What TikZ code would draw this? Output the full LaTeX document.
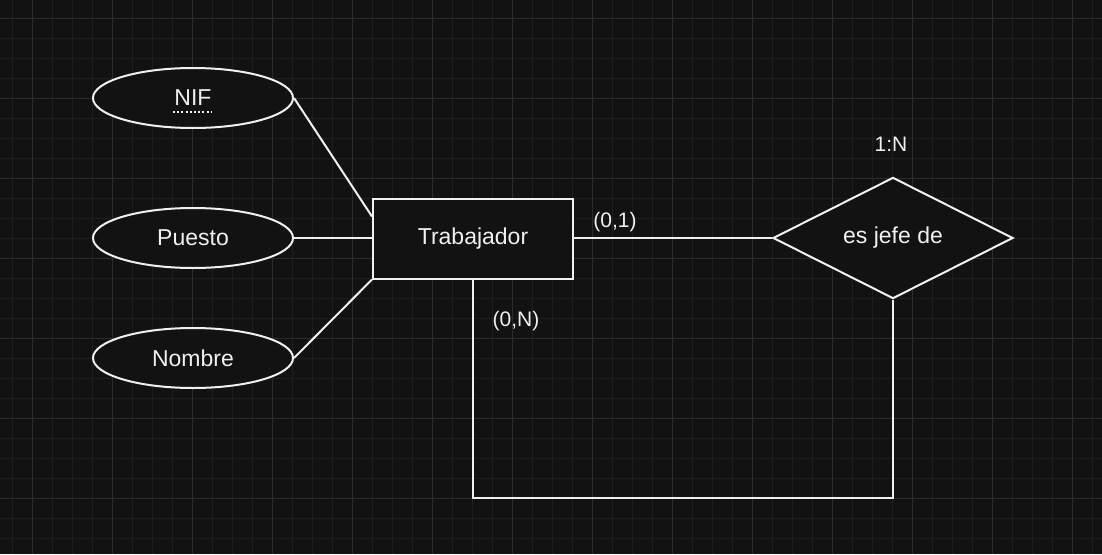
\documentclass[tikz,border=0pt]{standalone}
\usepackage{fontspec}
\setmainfont{Liberation Sans}
\usetikzlibrary{shapes.geometric}
\definecolor{bg}{RGB}{18,18,18}
\definecolor{gridminor}{RGB}{30,30,30}
\definecolor{gridmajor}{RGB}{44,44,44}
\definecolor{ink}{RGB}{240,240,240}
\tikzset{
  attr/.style={ellipse, draw=ink, fill=bg, line width=2pt, minimum width=200pt, minimum height=60pt, inner sep=0pt, text=ink, font=\fontsize{23}{27}\selectfont},
  entity/.style={rectangle, draw=ink, fill=bg, line width=2pt, minimum width=200pt, minimum height=80pt, inner sep=0pt, text=ink, font=\fontsize{23}{27}\selectfont},
  rel/.style={diamond, draw=ink, fill=bg, line width=2pt, minimum width=240pt, minimum height=120pt, inner sep=0pt, text=ink, font=\fontsize{23}{27}\selectfont},
  conn/.style={draw=ink, line width=2pt},
  lbl/.style={text=ink, inner sep=0pt, font=\fontsize{21}{25}\selectfont},
}
\begin{document}
\begin{tikzpicture}[x=1pt,y=-1pt]
\useasboundingbox (0,0) rectangle (1102,554);
\fill[bg] (0,0) rectangle (1102,554);
% grid
\foreach \i in {0,...,55} {
  \draw[gridminor, line width=1pt] ({12.7+20*\i},0) -- ({12.7+20*\i},554);
}
\foreach \j in {0,...,27} {
  \draw[gridminor, line width=1pt] (0,{18.3+20*\j}) -- (1102,{18.3+20*\j});
}
\foreach \i in {0,...,13} {
  \draw[gridmajor, line width=1pt] ({32.7+80*\i},0) -- ({32.7+80*\i},554);
}
\foreach \j in {0,...,6} {
  \draw[gridmajor, line width=1pt] (0,{18.3+80*\j}) -- (1102,{18.3+80*\j});
}
% nodes
\node[attr] (nif) at (193,98) {NIF};
\node[attr] (puesto) at (193,238) {Puesto};
\node[attr] (nombre) at (193,358) {Nombre};
\node[entity] (trab) at (473,238.5) {Trabajador};
\node[rel] (jefe) at (893,238) {es jefe de};
\coordinate (c1) at (893,498);
\coordinate (c2) at (473,498);
% underline of key attribute
\draw[ink, line width=1.6pt, dash pattern=on 2pt off 2.2pt] ([xshift=-20pt,yshift=-14pt]nif.center) -- ([xshift=19pt,yshift=-14pt]nif.center);
% connectors
\draw[conn] (nif.east) -- ([yshift=-19pt]trab.north west);
\draw[conn] (puesto.east) -- (trab.west |- puesto.east);
\draw[conn] (nombre.east) -- (trab.south west);
\draw[conn] (trab.east |- jefe.west) -- (jefe.west);
\draw[conn] (jefe.south) -- (c1) -- (c2) -- (trab.south);
% labels
\node[lbl] (l01) at (615,222) {(0,1)};
\node[lbl] (l0n) at (516,321) {(0,N)};
\node[lbl] (l1n) at (891,144.5) {1:N};
\end{tikzpicture}
\end{document}
